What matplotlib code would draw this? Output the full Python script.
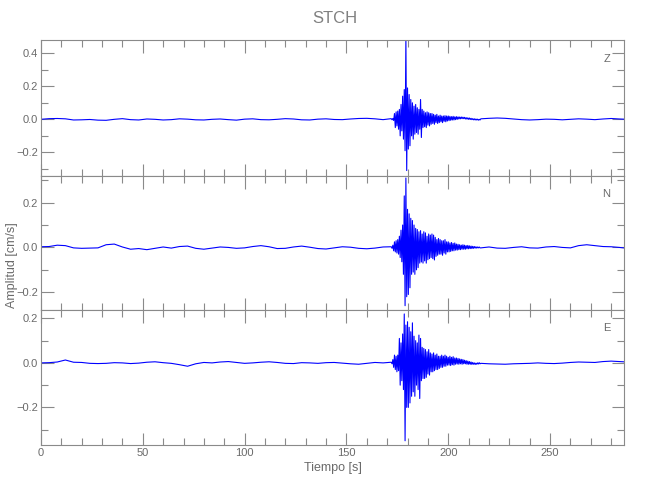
import matplotlib.pyplot as plt
import numpy as np
from matplotlib.ticker import MultipleLocator, FuncFormatter

plt.rcParams["font.family"] = ["Liberation Sans", "DejaVu Sans"]

# quiet part before the event, one value every 4 s from t=0
z_pre = [0.000, 0.004, 0.005, 0.003, -0.004, -0.003, -0.001, -0.005, -0.006, 0.000,
         0.004, -0.002, -0.004, 0.002, 0.000, -0.004, -0.002, 0.003, 0.001, -0.003,
         -0.004, 0.000, 0.002, -0.002, -0.005, 0.001, 0.003, -0.002, -0.003, 0.000,
         0.004, 0.002, -0.003, -0.004, 0.001, 0.003, -0.001, -0.002, 0.002, 0.005,
         0.006, 0.003, -0.002]
n_pre = [0.003, 0.004, 0.010, 0.008, -0.002, -0.004, -0.003, -0.002, 0.012, 0.015,
         0.002, -0.008, -0.005, -0.010, -0.004, 0.002, -0.003, 0.004, 0.006, -0.004,
         -0.008, -0.003, 0.002, 0.000, -0.004, -0.002, 0.004, 0.008, 0.003, -0.005,
         -0.004, 0.002, 0.006, 0.001, -0.005, -0.007, -0.002, 0.003, 0.001, -0.004,
         -0.006, -0.003, 0.002]
e_pre = [0.000, 0.001, 0.004, 0.013, 0.003, 0.002, -0.002, -0.003, -0.002, 0.001,
         0.000, -0.003, -0.001, 0.003, 0.005, 0.001, -0.002, -0.008, -0.015, -0.004,
         0.002, 0.000, 0.004, 0.006, 0.002, -0.002, 0.000, 0.003, 0.005, 0.002,
         -0.002, -0.003, 0.001, 0.000, -0.002, 0.001, 0.002, -0.001, -0.004, -0.006,
         -0.002, 0.002, 0.000]

# strong motion, peaks and troughs every 0.4 s from t=172
z_ev = [0.004, -0.003, 0.005, -0.006, 0.035, -0.05, 0.045, -0.04, 0.05, -0.06,
        0.06, -0.10, 0.09, -0.07, 0.14, -0.12, 0.18, -0.19, 0.50, -0.31,
        0.19, -0.18, 0.15, -0.16, 0.12, -0.10, 0.10, -0.12, 0.08, -0.09,
        0.09, -0.08, 0.07, -0.09, 0.06, -0.06, 0.12, -0.11, 0.06, -0.05,
        0.05, -0.045, 0.04, -0.05, 0.045, -0.035, 0.04, -0.04, 0.035, -0.03,
        0.035, -0.025, 0.03, -0.03, 0.025, -0.02, 0.03, -0.025, 0.02, -0.02,
        0.025, -0.015, 0.02, -0.02, 0.02, -0.012, 0.022, -0.015, 0.02, -0.01,
        0.02, -0.008, 0.018, -0.006, 0.016, -0.004, 0.018, -0.004, 0.015, -0.002,
        0.016, 0.0, 0.015, 0.002, 0.014, 0.003, 0.014, 0.004, 0.013, 0.004,
        0.012, 0.002, 0.01, 0.001, 0.009, 0.0, 0.008, -0.001, 0.006, -0.002,
        0.004, -0.003, 0.003, -0.004, 0.002, -0.004, 0.001, -0.005, 0.0, -0.004]
n_ev = [0.003, -0.004, 0.01, -0.015, 0.025, -0.02, 0.03, -0.025, 0.035, -0.03,
        0.05, -0.045, 0.077, -0.064, 0.10, -0.12, 0.23, -0.26, 0.31, -0.22,
        0.17, -0.21, 0.15, -0.18, 0.13, -0.12, 0.12, -0.11, 0.10, -0.12,
        0.085, -0.10, 0.08, -0.09, 0.07, -0.07, 0.075, -0.065, 0.06, -0.07,
        0.07, -0.06, 0.065, -0.07, 0.05, -0.055, 0.06, -0.05, 0.055, -0.045,
        0.06, -0.05, 0.055, -0.056, 0.045, -0.04, 0.035, -0.035, 0.04, -0.03,
        0.035, -0.03, 0.03, -0.035, 0.03, -0.025, 0.035, -0.03, 0.025, -0.02,
        0.025, -0.02, 0.02, -0.018, 0.022, -0.015, 0.018, -0.015, 0.02, -0.012,
        0.015, -0.012, 0.014, -0.01, 0.012, -0.01, 0.01, -0.008, 0.012, -0.008,
        0.01, -0.008, 0.008, -0.006, 0.009, -0.006, 0.007, -0.005, 0.006, -0.005,
        0.005, -0.004, 0.004, -0.003, 0.003, -0.003, 0.002, -0.002, 0.002, -0.002]
e_ev = [0.003, -0.004, 0.015, -0.02, 0.035, -0.03, 0.03, -0.04, 0.035, -0.035,
        0.11, -0.10, 0.09, -0.08, 0.13, -0.12, 0.22, -0.35, 0.17, -0.20,
        0.185, -0.20, 0.16, -0.18, 0.14, -0.15, 0.18, -0.13, 0.12, -0.15,
        0.10, -0.10, 0.09, -0.12, 0.125, -0.16, 0.11, -0.08, 0.07, -0.07,
        0.065, -0.07, 0.06, -0.065, 0.05, -0.05, 0.06, -0.055, 0.045, -0.04,
        0.04, -0.04, 0.045, -0.035, 0.035, -0.03, 0.04, -0.03, 0.03, -0.025,
        0.03, -0.02, 0.035, -0.02, 0.03, -0.015, 0.035, -0.015, 0.03, -0.01,
        0.025, -0.01, 0.03, -0.012, 0.025, -0.008, 0.028, -0.01, 0.022, -0.006,
        0.022, -0.005, 0.02, -0.006, 0.018, -0.004, 0.016, -0.006, 0.015, -0.004,
        0.012, -0.004, 0.01, -0.006, 0.008, -0.006, 0.006, -0.006, 0.004, -0.007,
        0.002, -0.006, 0.0, -0.007, -0.001, -0.006, 0.0, -0.005, 0.001, -0.004]

# quiet part after the event, every 4 s from t=216
z_post = [0.003, 0.006, 0.008, 0.006, 0.002, -0.002, -0.004, -0.002, 0.001, 0.000,
          -0.003, 0.000, 0.003, 0.001, -0.002, 0.002, 0.005, 0.002, 0.000]
n_post = [-0.002, 0.002, -0.003, -0.004, 0.000, 0.003, -0.002, -0.003, 0.002, 0.004,
          0.000, -0.002, 0.008, 0.012, 0.008, 0.004, 0.003, 0.000, -0.004]
e_post = [-0.002, -0.004, -0.005, -0.006, -0.004, -0.003, -0.002, 0.000, -0.002, -0.003,
          -0.001, 0.002, 0.004, 0.003, 0.002, 0.006, 0.008, 0.006, 0.004]

comps = ["Z", "N", "E"]
ylims = [(-0.34, 0.48), (-0.277, 0.321), (-0.369, 0.24)]


def trace(pre, ev, post):
    t = np.concatenate([4 * np.arange(len(pre)),
                        172 + 0.4 * np.arange(len(ev)),
                        216 + 4 * np.arange(len(post))])
    return t, np.concatenate([pre, ev, post])


def yfmt(v, pos):
    s = "%.1f" % v
    if s == "-0.0":
        s = "0.0"
    return s.replace("-", "\u2212")


traces = [trace(z_pre, z_ev, z_post), trace(n_pre, n_ev, n_post), trace(e_pre, e_ev, e_post)]

gray = "#8a8a8a"
tcol = "#6a6a6a"
fig = plt.figure(figsize=(6.5, 5), dpi=100)
bottoms = [0.649, 0.381, 0.11]
heights = [0.271, 0.268, 0.271]
axes = []
for i in range(3):
    ax = fig.add_axes([0.063, bottoms[i], 0.897, heights[i]])
    t, v = traces[i]
    ax.plot(t, v, color="#0000ff", lw=0.8)
    ax.set_xlim(0, 286.3)
    ax.set_ylim(*ylims[i])
    ax.xaxis.set_major_locator(MultipleLocator(50))
    ax.xaxis.set_minor_locator(MultipleLocator(10))
    ax.yaxis.set_major_locator(MultipleLocator(0.2))
    ax.yaxis.set_minor_locator(MultipleLocator(0.1))
    ax.yaxis.set_major_formatter(FuncFormatter(yfmt))
    ax.tick_params(which="both", direction="in", top=True, right=True, color=gray,
                   labelcolor=tcol, labelsize=8, width=0.8, pad=2)
    ax.tick_params(which="major", length=9)
    ax.tick_params(which="minor", length=5)
    for s in ax.spines.values():
        s.set_color(gray)
        s.set_linewidth(0.8)
    if i < 2:
        ax.tick_params(labelbottom=False)
    ax.text(0.97, 0.86, comps[i], transform=ax.transAxes, ha="center", va="center",
            color=tcol, fontsize=8)
    axes.append(ax)

axes[2].set_xlabel("Tiempo [s]", color=tcol, fontsize=9, labelpad=3)
fig.text(0.018, 0.47, "Amplitud [cm/s]", rotation=90, ha="center", va="center",
         color=tcol, fontsize=9)
fig.text(0.515, 0.963, "STCH", ha="center", va="center", color="#808080", fontsize=12)

fig.savefig("out.png", dpi=100)
